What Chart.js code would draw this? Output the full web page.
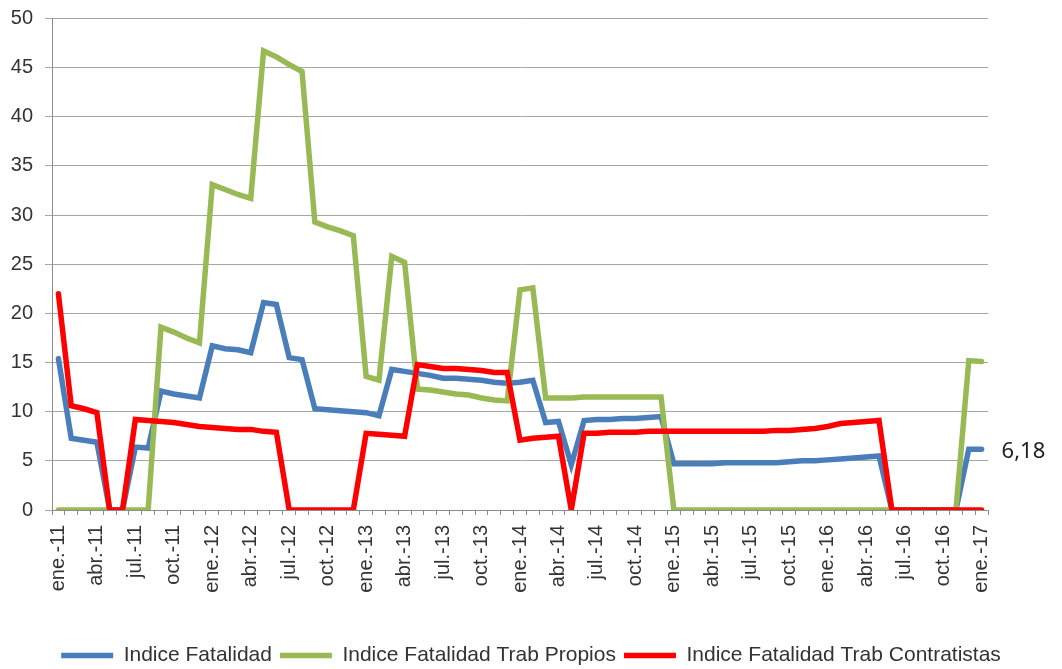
<!DOCTYPE html>
<html>
<head>
<meta charset="utf-8">
<script src="https://cdn.jsdelivr.net/npm/chart.js@4.4.1/dist/chart.umd.min.js"></script>
<style>
  body { margin: 0; background: #fff; }
  canvas { display: block; }
</style>
</head>
<body>
<canvas id="fatalidad-chart" width="1062" height="669"></canvas>
<script>
// months / years used to build the category axis
var meses = ['ene.', 'feb.', 'mar.', 'abr.', 'may.', 'jun.', 'jul.', 'ago.', 'sept.', 'oct.', 'nov.', 'dic.'];
var anios = ['11', '12', '13', '14', '15', '16', '17'];

var indiceFatalidad = [15.4, 7.3, 7.1, 6.9, 0, 0, 6.4, 6.3, 12.1, 11.8,
  11.6, 11.4, 16.7, 16.4, 16.3, 16.0, 21.1, 20.9, 15.5, 15.3,
  10.3, 10.2, 10.1, 10.0, 9.9, 9.6, 14.3, 14.1, 13.9, 13.7,
  13.4, 13.4, 13.3, 13.2, 13.0, 12.9, 13.0, 13.2, 8.9, 9.0,
  4.6, 9.1, 9.2, 9.2, 9.3, 9.3, 9.4, 9.5, 4.7, 4.7,
  4.7, 4.7, 4.8, 4.8, 4.8, 4.8, 4.8, 4.9, 5.0, 5.0,
  5.1, 5.2, 5.3, 5.4, 5.5, 0, 0, 0, 0, 0,
  0, 6.18, 6.18];

var indicePropios = [0, 0, 0, 0, 0, 0, 0, 0, 18.6, 18.1,
  17.5, 17.0, 33.1, 32.6, 32.1, 31.7, 46.7, 46.1, 45.3, 44.6,
  29.3, 28.8, 28.4, 27.9, 13.6, 13.2, 25.8, 25.2, 12.3, 12.2,
  12.0, 11.8, 11.7, 11.4, 11.2, 11.1, 22.4, 22.6, 11.4, 11.4,
  11.4, 11.5, 11.5, 11.5, 11.5, 11.5, 11.5, 11.5, 0, 0,
  0, 0, 0, 0, 0, 0, 0, 0, 0, 0,
  0, 0, 0, 0, 0, 0, 0, 0, 0, 0,
  0, 15.2, 15.1];

var indiceContratistas = [22.0, 10.6, 10.3, 9.9, 0, 0, 9.2, 9.1, 9.0, 8.9,
  8.7, 8.5, 8.4, 8.3, 8.2, 8.2, 8.0, 7.9, 0, 0,
  0, 0, 0, 0, 7.8, 7.7, 7.6, 7.5, 14.8, 14.6,
  14.4, 14.4, 14.3, 14.2, 14.0, 14.0, 7.1, 7.3, 7.4, 7.5,
  0, 7.8, 7.8, 7.9, 7.9, 7.9, 8.0, 8.0, 8.0, 8.0,
  8.0, 8.0, 8.0, 8.0, 8.0, 8.0, 8.1, 8.1, 8.2, 8.3,
  8.5, 8.8, 8.9, 9.0, 9.1, 0, 0, 0, 0, 0,
  0, 0, 0];

var etiquetas = [];
anios.forEach(function (a) {
  meses.forEach(function (m) { etiquetas.push(m + '-' + a); });
});
etiquetas = etiquetas.slice(0, indiceFatalidad.length);

var fontArial = '"Liberation Sans", Arial, sans-serif';

// value label next to the last point of Indice Fatalidad
var ultimoValor = {
  id: 'ultimoValor',
  afterDatasetsDraw: function (chart) {
    var meta = chart.getDatasetMeta(0);
    var pt = meta.data[meta.data.length - 1];
    var ctx = chart.ctx;
    ctx.save();
    ctx.font = '22px "Noto Sans", "Open Sans", sans-serif';
    ctx.fillStyle = '#222';
    ctx.textBaseline = 'middle';
    ctx.textAlign = 'left';
    var v = indiceFatalidad[indiceFatalidad.length - 1];
    ctx.fillText(String(v).replace('.', ','), pt.x + 20, pt.y + 2);
    ctx.restore();
  }
};

var ctx = document.getElementById('fatalidad-chart');
new Chart(ctx, {
  type: 'line',
  data: {
    labels: etiquetas,
    datasets: [
      {
        label: 'Indice Fatalidad',
        data: indiceFatalidad,
        borderColor: '#4a7ebb',
        backgroundColor: '#4a7ebb',
        borderWidth: 5.5,
        order: 3
      },
      {
        label: 'Indice Fatalidad Trab Propios',
        data: indicePropios,
        borderColor: '#98b954',
        backgroundColor: '#98b954',
        borderWidth: 5.5,
        order: 2
      },
      {
        label: 'Indice Fatalidad Trab Contratistas',
        data: indiceContratistas,
        borderColor: '#ff0000',
        backgroundColor: '#ff0000',
        borderWidth: 5.5,
        order: 1
      }
    ]
  },
  options: {
    responsive: false,
    animation: false,
    events: [],
    layout: { padding: { top: 18.5, left: 0, right: 0, bottom: -7 } },
    elements: {
      line: { tension: 0, fill: false, borderCapStyle: 'round' },
      point: { radius: 0 }
    },
    plugins: {
      tooltip: { enabled: false },
      legend: {
        position: 'bottom',
        labels: {
          usePointStyle: true,
          pointStyle: 'line',
          pointStyleWidth: 52,
          padding: 8,
          color: '#333',
          font: { family: fontArial, size: 21 },
          sort: function (a, b) { return a.datasetIndex - b.datasetIndex; }
        }
      }
    },
    scales: {
      x: {
        type: 'category',
        offset: true,
        afterFit: function (s) { s.height = 127; s.paddingLeft = 0; s.paddingRight = 0; },
        grid: {
          offset: true,
          drawOnChartArea: false,
          drawTicks: true,
          tickLength: 5,
          color: '#8c8c8c'
        },
        border: { display: true, color: '#8c8c8c', width: 1 },
        ticks: {
          autoSkip: false,
          minRotation: 90,
          maxRotation: 90,
          padding: 10,
          color: '#333',
          font: { family: fontArial, size: 20 },
          callback: function (val, i) { return i % 3 === 0 ? etiquetas[i] : ''; }
        }
      },
      y: {
        min: 0,
        max: 50,
        afterFit: function (s) { s.width = 52; s.paddingTop = 0; s.paddingBottom = 0; },
        grid: { color: '#a6a6a6', lineWidth: 1, tickLength: 7 },
        border: { display: true, color: '#8c8c8c', width: 1 },
        ticks: {
          stepSize: 5,
          padding: 12,
          color: '#333',
          font: { family: fontArial, size: 20 }
        }
      },
      yDer: {
        type: 'linear',
        position: 'right',
        afterFit: function (s) { s.width = 74; s.paddingTop = 0; s.paddingBottom = 0; },
        grid: { display: false },
        border: { display: false },
        ticks: { display: false }
      }
    }
  },
  plugins: [ultimoValor]
});
</script>
</body>
</html>
